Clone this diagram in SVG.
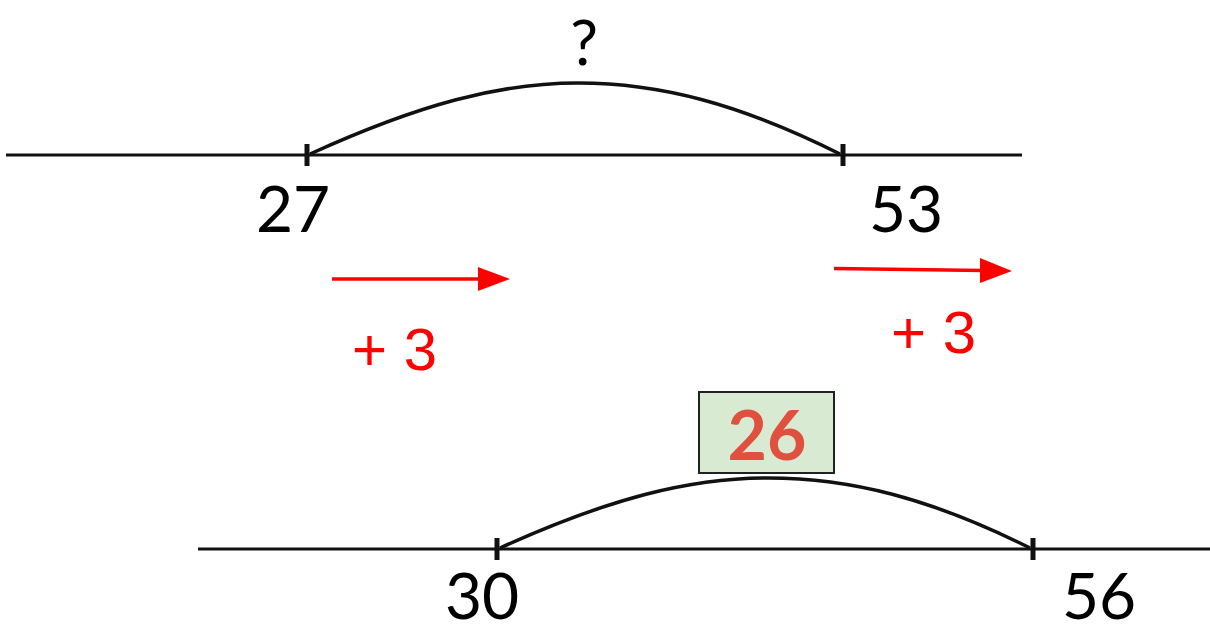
<svg xmlns="http://www.w3.org/2000/svg" width="1210" height="633" viewBox="0 0 1210 633">
<style>
.axis{stroke:#111;stroke-width:3;fill:none}
.tick{stroke:#111;stroke-width:5}
.arc{stroke:#111;stroke-width:3.5;fill:none}
.num{font-family:Lato,"Liberation Sans",sans-serif;font-size:64px;fill:#000;text-anchor:middle}
.red{stroke:#ff0000;stroke-width:3.5}
.plus{font-family:"Liberation Sans",Arial,sans-serif;fill:#ff0000}
</style>
<rect width="1210" height="633" fill="#fff"/>
<g id="line-top">
<line class="axis" x1="6" y1="155" x2="1022" y2="155"/>
<line class="tick" x1="307" y1="144" x2="307" y2="166"/>
<line class="tick" x1="843" y1="144" x2="843" y2="166"/>
</g>
<g id="line-bottom">
<line class="axis" x1="198" y1="549" x2="1210" y2="549"/>
<line class="tick" x1="497" y1="538" x2="497" y2="560"/>
<line class="tick" x1="1033" y1="538" x2="1033" y2="560"/>
</g>
<g id="connectors">
<path class="arc" d="M310,154 C420,104 500,83 578,83 C660,83 740,104 840,154"/>
<path class="arc" d="M500,548 C610,498 690,478 768,478 C850,478 930,498 1030,548"/>
<line class="red" x1="332" y1="279" x2="482" y2="279"/>
<polygon fill="#ff0000" points="478,267 510,279 478,291"/>
<line class="red" x1="834" y1="268.5" x2="984" y2="270.5"/>
<polygon fill="#ff0000" points="980,258 1012,271 980,283"/>
</g>
<g id="label-q"><text x="584" y="65" font-family="Lato,'Liberation Sans',sans-serif" font-size="62" text-anchor="middle">?</text></g>
<g id="n27"><text class="num" x="293" y="232">27</text></g>
<g id="n53"><text class="num" x="906" y="232">53</text></g>
<g id="n30"><text class="num" x="482" y="619">30</text></g>
<g id="n56"><text class="num" x="1099" y="619">56</text></g>
<g id="plus1"><text class="plus" x="352" y="370" font-size="60">+ 3</text></g>
<g id="plus2"><text class="plus" x="891" y="353" font-size="60">+ 3</text></g>
<g id="answer">
<rect x="699" y="392" width="135" height="81" fill="#d9ead3" stroke="#222" stroke-width="2"/>
<text x="767" y="460" font-family="Lato,'Liberation Sans',sans-serif" font-weight="bold" font-size="68" fill="#e0503e" text-anchor="middle">26</text>
</g>
</svg>
